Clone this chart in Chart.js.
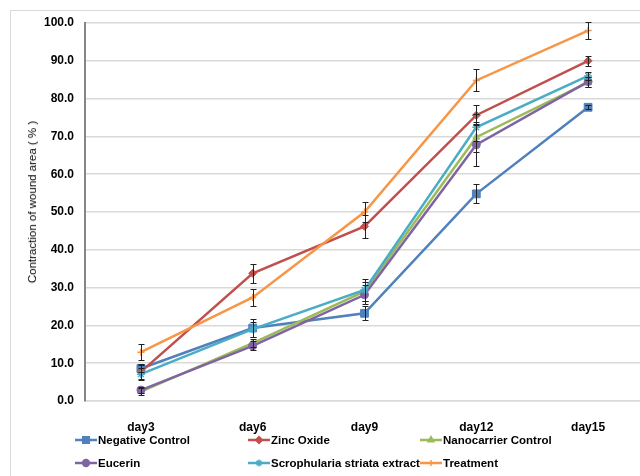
<!DOCTYPE html>
<html lang="en">
<head>
<meta charset="UTF-8">
<title>Contraction of wound area</title>
<script src="https://cdn.jsdelivr.net/npm/chart.js"></script>
<style>
  body {
    margin: 0;
    width: 640px;
    height: 476px;
    overflow: hidden;
    background: #fff;
    font-family: "Liberation Sans", Arial, sans-serif;
  }
  #frame {
    position: absolute;
    left: 10px;
    top: 10px;
    width: 700px;
    height: 500px;
    border: 1px solid #d9d9d9;
  }
  #chart { position: absolute; left: 0; top: 0; }
  #ytitle {
    position: absolute;
    left: 32px;
    top: 202px;
    transform: translate(-50%, -50%) rotate(-90deg);
    font-size: 11.5px;
    color: #000;
    white-space: nowrap;
  }
  .item {
    position: absolute;
    display: flex;
    align-items: center;
    font-size: 11.5px;
    font-weight: bold;
    color: #000;
    white-space: nowrap;
  }
  .item canvas { margin-right: 1px; }
</style>
</head>
<body>
<div id="frame"></div>
<canvas id="chart" width="660" height="476"></canvas>
<div id="ytitle">Contraction of wound area ( % )</div>
<div id="legend"></div>

<script>
const days = ['day3', 'day6', 'day9', 'day12', 'day15'];
const yTicks = [0, 10, 20, 30, 40, 50, 60, 70, 80, 90, 100];

const negativeControl = [8.6, 19.3, 23.2, 54.8, 77.7];
const zincOxide       = [7.7, 33.8, 46.2, 75.6, 90.0];
const nanocarrier     = [2.5, 15.3, 29.0, 69.8, 84.3];
const eucerin         = [2.9, 14.6, 28.1, 67.8, 84.5];
const scrophularia    = [7.1, 19.0, 29.4, 72.4, 86.0];
const treatment       = [12.9, 27.4, 50.0, 84.8, 98.0];

// +/- error values
const negativeErr     = [1.0, 2.4, 1.9, 2.5, 0.5];
const zincErr         = [2.0, 2.5, 3.0, 2.7, 1.3];
const nanoErr         = [1.0, 1.0, 2.5, 4.0, 1.3];
const eucerinErr      = [0.8, 1.2, 2.5, 5.5, 1.3];
const scrophErr       = [1.5, 2.0, 2.9, 3.5, 1.0];
const treatmentErr    = [2.1, 2.3, 2.7, 2.9, 2.3];

const series = [
  { label: 'Negative Control', data: negativeControl, err: negativeErr, color: '#4F81BD', style: 'rect', r: 5.5 },
  { label: 'Zinc Oxide', data: zincOxide, err: zincErr, color: '#C0504D', style: 'rectRot', r: 4 },
  { label: 'Nanocarrier Control', data: nanocarrier, err: nanoErr, color: '#9BBB59', style: 'triangle', r: 4 },
  { label: 'Eucerin', data: eucerin, err: eucerinErr, color: '#8064A2', style: 'circle', r: 4 },
  { label: 'Scrophularia striata extract', data: scrophularia, err: scrophErr, color: '#4BACC6', style: 'star', r: 4 },
  { label: 'Treatment', data: treatment, err: treatmentErr, color: '#F79646', style: 'cross', r: 3.5 }
];

const errorBars = {
  id: 'errorBars',
  afterDatasetsDraw(chart) {
    const ctx = chart.ctx;
    const y = chart.scales.y;
    ctx.save();
    ctx.strokeStyle = '#222';
    ctx.lineWidth = 1;
    chart.data.datasets.forEach((ds, i) => {
      const meta = chart.getDatasetMeta(i);
      meta.data.forEach((pt, j) => {
        const v = ds.data[j], e = ds.errors[j];
        const top = Math.round(y.getPixelForValue(v + e)) + 0.5;
        const bot = Math.round(y.getPixelForValue(v - e)) + 0.5;
        const x = Math.round(pt.x) + 0.5;
        ctx.beginPath();
        ctx.moveTo(x, top); ctx.lineTo(x, bot);
        ctx.moveTo(x - 3, top); ctx.lineTo(x + 3, top);
        ctx.moveTo(x - 3, bot); ctx.lineTo(x + 3, bot);
        ctx.stroke();
      });
    });
    ctx.restore();
  }
};

new Chart(document.getElementById('chart'), {
  type: 'line',
  data: {
    labels: days,
    datasets: series.map((s, i) => ({
      label: s.label,
      data: s.data,
      errors: s.err,
      borderColor: s.color,
      backgroundColor: s.color,
      borderWidth: 2.5,
      pointStyle: s.style,
      pointRadius: s.r,
      pointBorderColor: s.color,
      pointBackgroundColor: s.color,
      pointBorderWidth: s.style === 'star' || s.style === 'cross' ? 1.5 : 1,
      tension: 0,
      order: series.length - i
    }))
  },
  options: {
    responsive: false,
    animation: false,
    layout: { padding: { top: 23, right: 16, bottom: 35, left: 0 } },
    plugins: {
      legend: { display: false },
      tooltip: { enabled: false }
    },
    scales: {
      x: {
        offset: true,
        grid: { display: false, offset: true },
        border: { color: '#d9d9d9', width: 1.5 },
        ticks: {
          color: '#000',
          padding: 11,
          font: { family: '"Liberation Sans", Arial, sans-serif', size: 12, weight: 'bold' }
        },
        afterFit(s) { s.height = 40; }
      },
      y: {
        min: 0,
        max: 100,
        afterBuildTicks(s) { s.ticks = yTicks.map(v => ({ value: v })); },
        grid: { color: '#d9d9d9', lineWidth: 1.5, drawTicks: false },
        border: { color: '#868686', width: 2 },
        ticks: {
          color: '#000',
          padding: 11,
          font: { family: '"Liberation Sans", Arial, sans-serif', size: 12, weight: 'bold' },
          callback: v => v.toFixed(1)
        },
        afterFit(s) { s.width = 85; }
      }
    }
  },
  plugins: [errorBars]
});

// legend laid out on a fixed 3-column grid like the original
const legendX = [75, 248, 420];
const legendY = [441, 464];
const legend = document.getElementById('legend');
series.forEach((s, i) => {
  const item = document.createElement('div');
  item.className = 'item';
  item.style.left = legendX[i % 3] + 'px';
  item.style.top = (legendY[Math.floor(i / 3)] - 7) + 'px';
  const c = document.createElement('canvas');
  c.width = 22; c.height = 12;
  const g = c.getContext('2d');
  g.strokeStyle = s.color;
  g.fillStyle = s.color;
  g.lineWidth = 2.5;
  g.beginPath(); g.moveTo(0, 6); g.lineTo(22, 6); g.stroke();
  if (Chart.helpers && Chart.helpers.drawPoint) {
    g.lineWidth = 1.5;
    Chart.helpers.drawPoint(g, { pointStyle: s.style, radius: s.r * 0.85, borderWidth: 1.5, rotation: 0 }, 11, 6);
  }
  const t = document.createElement('span');
  t.textContent = s.label;
  item.appendChild(c);
  item.appendChild(t);
  legend.appendChild(item);
});
</script>
</body>
</html>
